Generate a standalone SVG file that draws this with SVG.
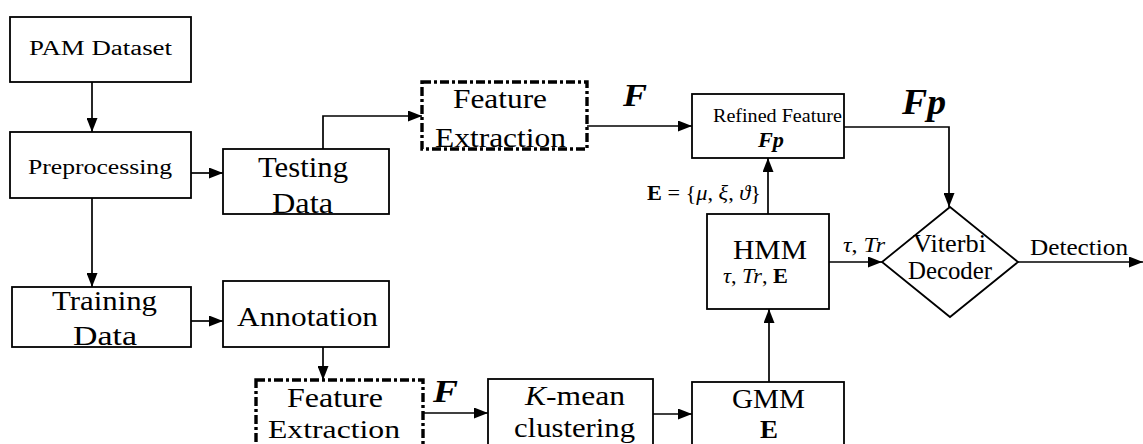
<svg xmlns="http://www.w3.org/2000/svg" width="1143" height="444" viewBox="0 0 1143 444">
<style>
.box{fill:#fff;stroke:#000;stroke-width:1.8}
.dash{fill:#fff;stroke:#000;stroke-width:3.4;stroke-dasharray:9 3 3 3}
.ln{fill:none;stroke:#000;stroke-width:1.7;marker-end:url(#ah)}
text{font-family:"Liberation Serif","DejaVu Serif",serif;fill:#000}
.bi{font-weight:bold;font-style:italic}
.it{font-style:italic}
.b{font-weight:bold}
</style>
<defs>
<marker id="ah" markerUnits="userSpaceOnUse" markerWidth="15" markerHeight="11" refX="14" refY="5.5" orient="auto">
<path d="M0,0 L14,5.5 L0,11 z" fill="#000"/>
</marker>
</defs>
<rect width="1143" height="444" fill="#fff"/>
<g id="connectors">
<line class="ln" x1="92" y1="82" x2="92" y2="132"/>
<line class="ln" x1="191" y1="173" x2="223" y2="173"/>
<path class="ln" d="M323,149 V116 H422"/>
<line class="ln" x1="587" y1="126" x2="692" y2="126"/>
<path class="ln" d="M844,127 H949 V207"/>
<line class="ln" x1="768" y1="214" x2="768" y2="158"/>
<line class="ln" x1="829" y1="262" x2="882" y2="262"/>
<line class="ln" x1="1018" y1="262" x2="1143" y2="262"/>
<line class="ln" x1="92" y1="198" x2="92" y2="287"/>
<line class="ln" x1="191" y1="321" x2="223" y2="321"/>
<line class="ln" x1="323" y1="347" x2="323" y2="380"/>
<line class="ln" x1="423" y1="413" x2="488" y2="413"/>
<line class="ln" x1="653" y1="414" x2="692" y2="414"/>
<line class="ln" x1="769" y1="382" x2="769" y2="309"/>
<text x="623" y="106" font-size="32" class="bi" textLength="24" lengthAdjust="spacingAndGlyphs">F</text>
<text x="902" y="114" font-size="36" class="bi" textLength="44" lengthAdjust="spacingAndGlyphs">Fp</text>
<text x="647" y="200" font-size="20" textLength="114" lengthAdjust="spacingAndGlyphs"><tspan class="b">E</tspan> = {<tspan class="it">μ</tspan>, <tspan class="it">ξ</tspan>, <tspan class="it">ϑ</tspan>}</text>
<text x="843" y="252" font-size="20" textLength="42" lengthAdjust="spacingAndGlyphs"><tspan class="it">τ</tspan>, <tspan class="it">Tr</tspan></text>
<text x="1030" y="255" font-size="24" textLength="98" lengthAdjust="spacingAndGlyphs">Detection</text>
<text x="433" y="402" font-size="32" class="bi" textLength="25" lengthAdjust="spacingAndGlyphs">F</text>
</g>
<g id="pam">
<rect class="box" x="10" y="17" width="181" height="65"/>
<text x="29" y="55" font-size="20" textLength="143" lengthAdjust="spacingAndGlyphs">PAM Dataset</text>
</g>
<g id="preprocessing">
<rect class="box" x="10" y="132" width="181" height="66"/>
<text x="28" y="174" font-size="20" textLength="144" lengthAdjust="spacingAndGlyphs">Preprocessing</text>
</g>
<g id="testing">
<rect class="box" x="223" y="149" width="166" height="65"/>
<text x="258" y="177" font-size="29" textLength="90" lengthAdjust="spacingAndGlyphs">Testing</text>
<text x="272" y="213" font-size="29" textLength="61" lengthAdjust="spacingAndGlyphs">Data</text>
</g>
<g id="fe-top">
<rect class="dash" x="422" y="82" width="165" height="67"/>
<text x="453" y="108" font-size="27" textLength="94" lengthAdjust="spacingAndGlyphs">Feature</text>
<text x="435" y="147" font-size="27" textLength="131" lengthAdjust="spacingAndGlyphs">Extraction</text>
</g>
<g id="refined">
<rect class="box" x="692" y="94" width="152" height="64"/>
<text x="713" y="122" font-size="19" textLength="129" lengthAdjust="spacingAndGlyphs">Refined Feature</text>
<text x="758" y="147" font-size="20" class="bi" textLength="26" lengthAdjust="spacingAndGlyphs">Fp</text>
</g>
<g id="hmm">
<rect class="box" x="707" y="214" width="122" height="95"/>
<text x="733" y="259" font-size="28" textLength="74" lengthAdjust="spacingAndGlyphs">HMM</text>
<text x="723" y="283" font-size="20" textLength="65" lengthAdjust="spacingAndGlyphs"><tspan class="it">τ</tspan>, <tspan class="it">Tr</tspan>, <tspan class="b">E</tspan></text>
</g>
<g id="viterbi">
<polygon class="box" points="950,207 1018,262 950,317 882,262"/>
<text x="913" y="252" font-size="26" textLength="73" lengthAdjust="spacingAndGlyphs">Viterbi</text>
<text x="908" y="279" font-size="26" textLength="84" lengthAdjust="spacingAndGlyphs">Decoder</text>
</g>
<g id="training">
<rect class="box" x="12" y="287" width="179" height="60"/>
<text x="52" y="310" font-size="28" textLength="105" lengthAdjust="spacingAndGlyphs">Training</text>
<text x="73" y="345" font-size="28" textLength="64" lengthAdjust="spacingAndGlyphs">Data</text>
</g>
<g id="annotation">
<rect class="box" x="223" y="281" width="166" height="66"/>
<text x="237" y="326" font-size="28" textLength="141" lengthAdjust="spacingAndGlyphs">Annotation</text>
</g>
<g id="fe-bottom">
<rect class="dash" x="256" y="380" width="167" height="80"/>
<text x="287" y="407" font-size="27" textLength="96" lengthAdjust="spacingAndGlyphs">Feature</text>
<text x="268" y="438" font-size="26" textLength="132" lengthAdjust="spacingAndGlyphs">Extraction</text>
</g>
<g id="kmean">
<rect class="box" x="488" y="379" width="165" height="80"/>
<text x="525" y="405" font-size="27" textLength="100" lengthAdjust="spacingAndGlyphs"><tspan class="it">K</tspan>-mean</text>
<text x="514" y="437" font-size="27" textLength="121" lengthAdjust="spacingAndGlyphs">clustering</text>
</g>
<g id="gmm">
<rect class="box" x="692" y="382" width="152" height="80"/>
<text x="732" y="408" font-size="28" textLength="73" lengthAdjust="spacingAndGlyphs">GMM</text>
<text x="760" y="438" font-size="26" class="b" textLength="18" lengthAdjust="spacingAndGlyphs">E</text>
</g>
</svg>
